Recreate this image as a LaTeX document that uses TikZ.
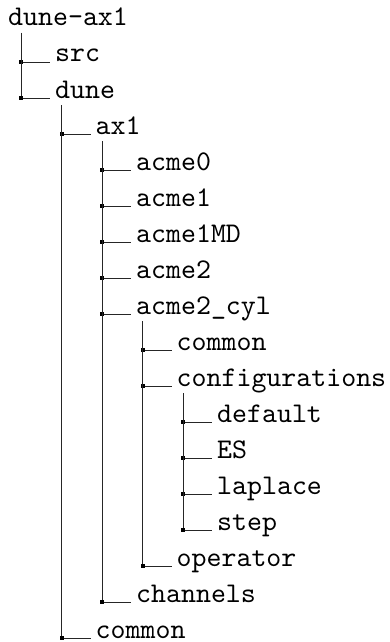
\documentclass[tikz,border=0pt]{standalone}
\usepackage{fontspec}
\setmonofont{lmmono10-regular.otf}
\usepackage{tikz}
\usetikzlibrary{calc}

\tikzset{
  entry/.style={anchor=base west, inner sep=0pt, font=\ttfamily\fontsize{28.5}{34}\selectfont},
  branch/.style={draw=black!85, line width=0.8pt},
  joint/.style={fill=black}
}

\begin{document}
\begin{tikzpicture}[x=1pt,y=-1pt]
\useasboundingbox (0,0) rectangle (389,642);
%% Root of the tree
\node[entry] (n0) at (8,26) {dune-ax1};
%% Entries: row/depth/parent/label
\foreach \i/\d/\p/\txt in {1/1/0/src, 2/1/0/dune, 3/2/2/ax1,
    4/3/3/acme0, 5/3/3/acme1, 6/3/3/acme1MD, 7/3/3/acme2,
    8/3/3/acme2\_cyl, 9/4/8/common, 10/4/8/configurations,
    11/5/10/default, 12/5/10/ES, 13/5/10/laplace, 14/5/10/step,
    15/4/8/operator, 16/3/3/channels, 17/2/2/common} {
  \pgfmathsetmacro{\x}{55 + 40.5*(\d-1)}
  \pgfmathsetmacro{\y}{26 + 36*\i}
  \node[entry] (n\i) at (\x,\y) {\txt};
}
%% Branches: vertical from the parent, horizontal to the entry
\foreach \i/\p in {1/0, 2/0, 3/2, 4/3, 5/3, 6/3, 7/3, 8/3, 9/8, 10/8,
    11/10, 12/10, 13/10, 14/10, 15/8, 16/3, 17/2} {
  \coordinate (j\i) at ($(n\i.base west)+(-34,0)$);
  \coordinate (t\i) at ($(n\p.base)+(0,7)$);
  \draw[branch] (j\i |- t\i) -- (j\i) -- ($(n\i.base west)+(-5,0)$);
  \fill[joint] ($(j\i)+(-2,-2)$) rectangle ($(j\i)+(2,2)$);
}
\end{tikzpicture}
\end{document}
